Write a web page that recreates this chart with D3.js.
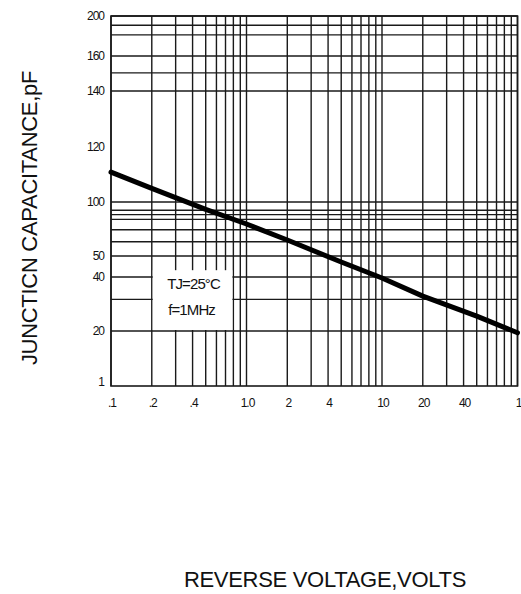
<!DOCTYPE html>
<html><head><meta charset="utf-8">
<script src="https://cdn.jsdelivr.net/npm/d3@7"></script>
<style>
html,body{margin:0;padding:0;background:#fff;}
svg{display:block;}
text{font-family:"Liberation Sans",Arial,sans-serif;fill:#111;}
</style></head>
<body>
<svg id="chart" width="521" height="594"></svg>
<script>
// ---- data ----
const voltage = [0.1, 0.2, 0.5, 1, 2, 5, 10, 20, 50, 100];
const capacitance = [110.4, 104.6, 90.9, 75.4, 61.4, 46.9, 39.5, 31.3, 24.2, 18];
const xTickValues = [0.1, 0.2, 0.4, 1, 2, 4, 10, 20, 40, 100];
const xTickLabels = [".1", ".2", ".4", "1.0", "2", "4", "10", "20", "40", "1"];
const yTickValues = [200, 160, 140, 120, 100, 50, 40, 20, 1];
const yTickLabels = ["200", "160", "140", "120", "100", "50", "40", "20", "1"];
const yGridValues = [200, 190, 180, 160, 150, 140, 100, 90, 85, 80, 70, 60, 50, 40, 30, 20];
const xGridValues = [];
[0.1, 1, 10].forEach(d => { for (let k = 1; k <= 9; k++) xGridValues.push(+(d * k).toPrecision(3)); });
xGridValues.push(100);
const noteLines = ["TJ=25°C", "f=1MHz"];
const noteBox = { x0: 0.2, x1: 0.8, yTop: 43, yBottom: 20 };

// ---- layout ----
const svg = d3.select("#chart");
const margin = { left: 111, top: 16 };
const W = 406.5, H = 370;
const g = svg.append("g").attr("transform", `translate(${margin.left},${margin.top})`);

const x = d3.scaleLog().domain([0.1, 100]).range([0, W]);
// piecewise (non-uniform) vertical scale as printed on the original sheet
const y = d3.scaleLog()
  .domain([1, 20, 40, 50, 100, 120, 140, 160, 200])
  .range([366, 315, 261, 240, 186, 131, 75, 40, 0]);

const stroke = "#1a1a1a";

// vertical grid
g.append("g").selectAll("line").data(xGridValues).join("line")
  .attr("x1", d => x(d)).attr("x2", d => x(d))
  .attr("y1", 0).attr("y2", H)
  .attr("stroke", stroke).attr("stroke-width", 1.4);

// horizontal grid
g.append("g").selectAll("line").data(yGridValues).join("line")
  .attr("x1", 0).attr("x2", W)
  .attr("y1", d => y(d)).attr("y2", d => y(d))
  .attr("stroke", stroke).attr("stroke-width", 1.4);

// frame
g.append("rect").attr("x", 0).attr("y", 0).attr("width", W).attr("height", H)
  .attr("fill", "none").attr("stroke", stroke).attr("stroke-width", 1.6);

// annotation box (white patch)
g.append("rect")
  .attr("x", x(noteBox.x0) + 1).attr("y", y(noteBox.yTop))
  .attr("width", x(noteBox.x1) - x(noteBox.x0) - 2)
  .attr("height", y(noteBox.yBottom) - y(noteBox.yTop) - 1)
  .attr("fill", "#fff");

const noteCx = (x(noteBox.x0) + x(noteBox.x1)) / 2;
g.append("g").selectAll("text").data(noteLines).join("text")
  .attr("x", (d, i) => noteCx + 1 - i * 2)
  .attr("y", (d, i) => y(noteBox.yTop) + 19 + i * 26)
  .attr("text-anchor", "middle")
  .attr("font-size", 15).attr("letter-spacing", -0.9)
  .text(d => d);

// curve
const line = d3.line().x(d => x(d[0])).y(d => y(d[1]));
g.append("path")
  .datum(voltage.map((v, i) => [v, capacitance[i]]))
  .attr("d", line).attr("fill", "none")
  .attr("stroke", "#000").attr("stroke-width", 5).attr("stroke-linecap", "round")
  .attr("stroke-linejoin", "round");

// x tick labels
g.append("g").selectAll("text").data(xTickValues).join("text")
  .attr("x", d => x(d) + 1).attr("y", H + 21)
  .attr("text-anchor", "middle")
  .attr("font-size", 12).attr("letter-spacing", -1)
  .text((d, i) => xTickLabels[i]);

// y tick labels
g.append("g").selectAll("text").data(yTickValues).join("text")
  .attr("x", -7).attr("y", d => y(d) + 4)
  .attr("text-anchor", "end")
  .attr("font-size", 12).attr("letter-spacing", -1)
  .text((d, i) => yTickLabels[i]);

// axis titles
svg.append("text")
  .attr("transform", "translate(37,218) rotate(-90)")
  .attr("text-anchor", "middle")
  .attr("font-size", 22).attr("letter-spacing", -0.3)
  .text("JUNCTICN CAPACITANCE,pF");

svg.append("text")
  .attr("x", 325).attr("y", 587)
  .attr("text-anchor", "middle")
  .attr("font-size", 22).attr("letter-spacing", -0.3)
  .text("REVERSE VOLTAGE,VOLTS");
</script>
</body></html>
